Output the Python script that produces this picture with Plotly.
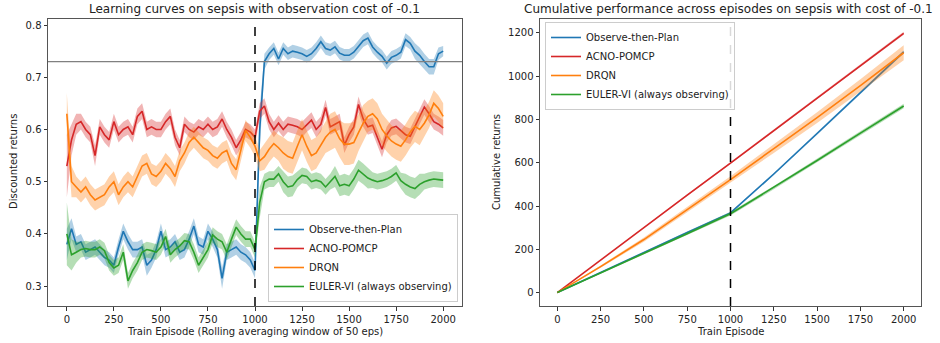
import plotly.graph_objects as go

# ---------------- data: left panel (rolling mean, every 25 episodes) ----------------
episodes = list(range(0, 2001, 25))

otp_mean = [0.38, 0.41, 0.38, 0.385, 0.365, 0.37, 0.375, 0.365, 0.355, 0.35,
            0.34, 0.375, 0.405, 0.385, 0.37, 0.37, 0.375, 0.34, 0.35, 0.37,
            0.405, 0.37, 0.375, 0.385, 0.365, 0.37, 0.39, 0.415, 0.38, 0.375,
            0.405, 0.39, 0.37, 0.315, 0.365, 0.37, 0.375, 0.365, 0.36, 0.35,
            0.33, 0.6, 0.73, 0.745, 0.755, 0.735, 0.755, 0.745, 0.75, 0.748,
            0.745, 0.74, 0.745, 0.755, 0.768, 0.755, 0.752, 0.758, 0.746, 0.742,
            0.742, 0.748, 0.758, 0.77, 0.775, 0.758, 0.748, 0.74, 0.727, 0.738,
            0.742, 0.748, 0.772, 0.765, 0.75, 0.742, 0.73, 0.72, 0.72, 0.745, 0.75]
otp_spread = [0.03, 0.02, 0.015, 0.015, 0.015, 0.015, 0.015, 0.015, 0.015, 0.015,
              0.015, 0.015, 0.015, 0.015, 0.015, 0.015, 0.015, 0.02, 0.015, 0.015,
              0.015, 0.015, 0.015, 0.015, 0.015, 0.015, 0.015, 0.015, 0.015, 0.015,
              0.015, 0.015, 0.015, 0.02, 0.015, 0.015, 0.015, 0.015, 0.015, 0.015,
              0.015, 0.04, 0.015, 0.012, 0.012, 0.012, 0.012, 0.012, 0.012, 0.012,
              0.012, 0.012, 0.012, 0.012, 0.012, 0.012, 0.012, 0.012, 0.012, 0.012,
              0.012, 0.012, 0.012, 0.012, 0.012, 0.012, 0.012, 0.012, 0.012, 0.012,
              0.012, 0.012, 0.012, 0.012, 0.015, 0.015, 0.015, 0.015, 0.015, 0.012, 0.01]

acno_mean = [0.53, 0.58, 0.61, 0.615, 0.6, 0.59, 0.55, 0.605, 0.59, 0.58,
             0.615, 0.59, 0.6, 0.605, 0.59, 0.625, 0.635, 0.6, 0.605, 0.6,
             0.6, 0.615, 0.625, 0.585, 0.565, 0.61, 0.6, 0.595, 0.605, 0.6,
             0.61, 0.6, 0.605, 0.62, 0.6, 0.585, 0.565, 0.58, 0.6, 0.595,
             0.585, 0.635, 0.645, 0.615, 0.6, 0.612, 0.6, 0.61, 0.608, 0.605,
             0.6, 0.61, 0.618, 0.6, 0.61, 0.642, 0.605, 0.61, 0.615, 0.57,
             0.59, 0.605, 0.648, 0.62, 0.605, 0.608, 0.585, 0.562, 0.59, 0.603,
             0.606, 0.598, 0.59, 0.587, 0.605, 0.625, 0.643, 0.63, 0.615, 0.61, 0.603]
acno_spread = [0.06, 0.03, 0.02, 0.015, 0.015, 0.015, 0.02, 0.015, 0.015, 0.015,
               0.015, 0.015, 0.015, 0.015, 0.015, 0.015, 0.015, 0.015, 0.015, 0.015,
               0.015, 0.015, 0.015, 0.015, 0.015, 0.015, 0.015, 0.015, 0.015, 0.015,
               0.015, 0.015, 0.015, 0.015, 0.015, 0.015, 0.015, 0.015, 0.015, 0.015,
               0.015, 0.015, 0.015, 0.015, 0.015, 0.015, 0.015, 0.015, 0.015, 0.015,
               0.015, 0.015, 0.015, 0.015, 0.015, 0.015, 0.015, 0.015, 0.015, 0.015,
               0.015, 0.015, 0.015, 0.015, 0.015, 0.015, 0.015, 0.015, 0.015, 0.015,
               0.015, 0.015, 0.015, 0.015, 0.015, 0.015, 0.015, 0.015, 0.015, 0.015, 0.015]

drqn_mean = [0.63, 0.5, 0.49, 0.48, 0.49, 0.475, 0.465, 0.47, 0.475, 0.49,
             0.5, 0.475, 0.49, 0.5, 0.49, 0.51, 0.53, 0.535, 0.515, 0.51,
             0.52, 0.535, 0.525, 0.51, 0.54, 0.555, 0.575, 0.585, 0.575, 0.565,
             0.56, 0.55, 0.545, 0.555, 0.56, 0.535, 0.523, 0.56, 0.598, 0.585,
             0.568, 0.54, 0.548, 0.562, 0.573, 0.565, 0.555, 0.548, 0.545, 0.568,
             0.59, 0.568, 0.55, 0.555, 0.57, 0.585, 0.595, 0.6, 0.582, 0.572,
             0.572, 0.575, 0.594, 0.612, 0.625, 0.63, 0.62, 0.6, 0.588, 0.578,
             0.572, 0.568, 0.58, 0.595, 0.606, 0.6, 0.612, 0.628, 0.65, 0.64, 0.625]
drqn_spread = [0.04, 0.03, 0.02, 0.02, 0.02, 0.02, 0.02, 0.02, 0.02, 0.02,
               0.02, 0.02, 0.02, 0.02, 0.02, 0.02, 0.02, 0.02, 0.02, 0.02,
               0.02, 0.02, 0.02, 0.02, 0.02, 0.02, 0.02, 0.02, 0.02, 0.02,
               0.02, 0.02, 0.02, 0.02, 0.02, 0.02, 0.02, 0.02, 0.02, 0.02,
               0.02, 0.02, 0.025, 0.025, 0.025, 0.025, 0.03, 0.03, 0.03, 0.03,
               0.03, 0.03, 0.03, 0.03, 0.03, 0.03, 0.035, 0.035, 0.035, 0.04,
               0.04, 0.04, 0.035, 0.035, 0.03, 0.03, 0.03, 0.03, 0.03, 0.03,
               0.03, 0.03, 0.03, 0.03, 0.03, 0.03, 0.025, 0.025, 0.025, 0.025, 0.025]

euler_mean = [0.4, 0.36, 0.365, 0.37, 0.372, 0.37, 0.37, 0.375, 0.368, 0.345,
              0.335, 0.34, 0.365, 0.31, 0.33, 0.345, 0.365, 0.37, 0.368, 0.365,
              0.375, 0.395, 0.36, 0.37, 0.377, 0.387, 0.385, 0.365, 0.34, 0.355,
              0.37, 0.398, 0.39, 0.385, 0.365, 0.39, 0.413, 0.4, 0.39, 0.39,
              0.37, 0.46, 0.5, 0.505, 0.505, 0.515, 0.5, 0.49, 0.492, 0.504,
              0.512, 0.51, 0.5, 0.503, 0.5, 0.49, 0.5, 0.51, 0.492, 0.495,
              0.492, 0.505, 0.522, 0.515, 0.507, 0.503, 0.5, 0.502, 0.505, 0.51,
              0.517, 0.502, 0.495, 0.49, 0.487, 0.495, 0.5, 0.503, 0.505, 0.504, 0.503]
euler_spread = [0.06, 0.03, 0.02, 0.015, 0.015, 0.015, 0.015, 0.015, 0.015, 0.015,
                0.015, 0.015, 0.015, 0.015, 0.015, 0.015, 0.015, 0.015, 0.015, 0.015,
                0.015, 0.015, 0.015, 0.015, 0.015, 0.015, 0.015, 0.015, 0.015, 0.015,
                0.015, 0.015, 0.015, 0.015, 0.015, 0.015, 0.015, 0.015, 0.015, 0.015,
                0.015, 0.03, 0.015, 0.015, 0.015, 0.015, 0.02, 0.02, 0.02, 0.015,
                0.015, 0.015, 0.015, 0.015, 0.015, 0.015, 0.015, 0.02, 0.02, 0.02,
                0.02, 0.02, 0.02, 0.02, 0.02, 0.015, 0.015, 0.015, 0.015, 0.015,
                0.015, 0.015, 0.02, 0.02, 0.02, 0.02, 0.015, 0.015, 0.015, 0.015, 0.015]

# ---------------- data: right panel (cumulative returns) ----------------
cum_episodes = [0, 250, 500, 750, 1000, 1250, 1500, 1750, 2000]
otp_cum = [0, 93, 185, 278, 368, 548, 735, 922, 1112]
acno_cum = [0, 150, 303, 450, 598, 748, 900, 1050, 1198]
drqn_cum = [0, 120, 245, 382, 522, 665, 808, 956, 1108]
euler_cum = [0, 90, 180, 272, 364, 485, 610, 737, 862]
otp_cum_spread = [0, 2, 3, 4, 5, 5, 6, 6, 7]
acno_cum_spread = [0, 2, 3, 4, 5, 5, 6, 6, 7]
drqn_cum_spread = [0, 5, 10, 12, 15, 20, 25, 30, 35]
euler_cum_spread = [0, 3, 5, 6, 8, 8, 9, 10, 10]

labels = ["Observe-then-Plan", "ACNO-POMCP", "DRQN", "EULER-VI (always observing)"]
colors = ["#1f77b4", "#d62728", "#ff7f0e", "#2ca02c"]
fills = ["rgba(31,119,180,0.35)", "rgba(214,39,40,0.35)",
         "rgba(255,127,14,0.35)", "rgba(44,160,44,0.35)"]

optimal_value = 0.73
switch_episode = 1000

left_series = [(otp_mean, otp_spread), (acno_mean, acno_spread),
               (drqn_mean, drqn_spread), (euler_mean, euler_spread)]
right_series = [(otp_cum, otp_cum_spread), (acno_cum, acno_cum_spread),
                (drqn_cum, drqn_cum_spread), (euler_cum, euler_cum_spread)]

W, H = 940, 343
FONT = "DejaVu Sans"
fig = go.Figure()


def band(x, mean, spread, xa, ya, fillcolor):
    up = [m + s for m, s in zip(mean, spread)]
    lo = [m - s for m, s in zip(mean, spread)]
    return go.Scatter(x=list(x) + list(x)[::-1], y=up + lo[::-1], fill="toself",
                      fillcolor=fillcolor, line=dict(width=0), mode="lines",
                      hoverinfo="skip", showlegend=False, xaxis=xa, yaxis=ya)


for (mean, spread), lab, col, fc in zip(left_series, labels, colors, fills):
    fig.add_trace(band(episodes, mean, spread, "x", "y", fc))
    fig.add_trace(go.Scatter(x=episodes, y=mean, mode="lines", name=lab,
                             line=dict(color=col, width=1.6), xaxis="x", yaxis="y",
                             legend="legend"))

for (mean, spread), lab, col, fc in zip(right_series, labels, colors, fills):
    fig.add_trace(band(cum_episodes, mean, spread, "x2", "y2", fc))
    fig.add_trace(go.Scatter(x=cum_episodes, y=mean, mode="lines", name=lab,
                             line=dict(color=col, width=1.6), xaxis="x2", yaxis="y2",
                             legend="legend2"))

# reference lines
fig.add_shape(type="line", xref="x domain", yref="y", x0=0, x1=1,
              y0=optimal_value, y1=optimal_value, line=dict(color="#808080", width=1.2))
fig.add_shape(type="line", xref="x", yref="y domain", x0=switch_episode, x1=switch_episode,
              y0=0, y1=1, line=dict(color="black", width=1.5, dash="dash"))
fig.add_shape(type="line", xref="x2", yref="y2 domain", x0=switch_episode, x1=switch_episode,
              y0=0, y1=1, line=dict(color="black", width=1.5, dash="dash"))

axis_common = dict(showgrid=False, zeroline=False, showline=True, mirror=True,
                   linecolor="#555555", linewidth=1, ticks="outside", ticklen=3.5,
                   tickcolor="#333333", tickfont=dict(family=FONT, size=10, color="#222222"),
                   automargin=False)


def ann(text, px, py, size=10, angle=0):
    return dict(text=text, x=px / W, y=1 - py / H, xref="paper", yref="paper",
                xanchor="center", yanchor="middle", showarrow=False, textangle=angle,
                font=dict(size=size, family=FONT, color="#222222"))


y_top = 1 - 19 / H
y_bot = 1 - 306 / H
fig.update_layout(
    width=W, height=H,
    margin=dict(l=0, r=0, t=0, b=0),
    paper_bgcolor="white", plot_bgcolor="white",
    font=dict(family=FONT, size=10, color="#222222"),
    xaxis=dict(domain=[48 / W, 462 / W], range=[-100, 2100], tickvals=list(range(0, 2001, 250)),
               anchor="y", **axis_common),
    yaxis=dict(domain=[y_bot, y_top], range=[0.262, 0.8115],
               tickvals=[0.3, 0.4, 0.5, 0.6, 0.7, 0.8], tickformat=".1f",
               anchor="x", **axis_common),
    xaxis2=dict(domain=[540 / W, 921 / W], range=[-100, 2100], tickvals=list(range(0, 2001, 250)),
                anchor="y2", **axis_common),
    yaxis2=dict(domain=[y_bot, y_top], range=[-62, 1264],
                tickvals=[0, 200, 400, 600, 800, 1000, 1200],
                anchor="x2", **axis_common),
    legend=dict(x=458 / W, y=1 - 302 / H, xanchor="right", yanchor="bottom",
                bgcolor="rgba(255,255,255,0.85)", bordercolor="#cccccc", borderwidth=1,
                font=dict(family=FONT, size=10, color="#222222"), tracegroupgap=0),
    legend2=dict(x=545 / W, y=1 - 22 / H, xanchor="left", yanchor="top",
                 bgcolor="rgba(255,255,255,0.85)", bordercolor="#cccccc", borderwidth=1,
                 font=dict(family=FONT, size=10, color="#222222"), tracegroupgap=0),
    annotations=[
        ann("Learning curves on sepsis with observation cost of -0.1", 255, 9, 12),
        ann("Cumulative performance across episodes on sepsis with cost of -0.1", 728, 9, 12),
        ann("Train Episode (Rolling averaging window of 50 eps)", 255, 331),
        ann("Train Episode", 730, 331),
        ann("Discounted returns", 14, 162, angle=-90),
        ann("Cumulative returns", 497, 162, angle=-90),
    ],
)

fig.write_html("out.html", config={"displayModeBar": False},
               post_script="document.body.style.margin='0';document.body.style.overflow='hidden';")
